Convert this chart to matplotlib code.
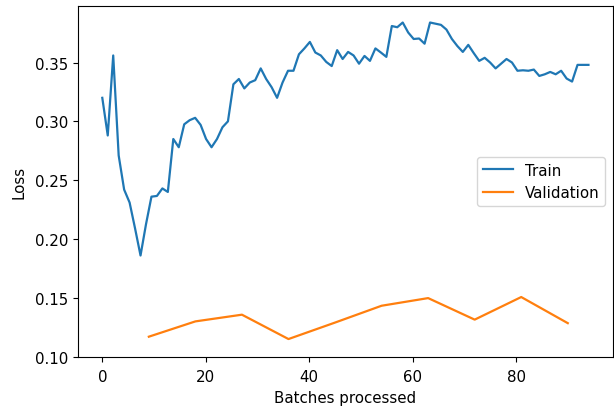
import numpy as np
import matplotlib
matplotlib.use("Agg")
import matplotlib.pyplot as plt

# 训练损失（每个批次记录一次）
train_loss = [
    0.320, 0.288, 0.356, 0.271, 0.242, 0.231, 0.209, 0.186, 0.2125, 0.236,
    0.2366, 0.243, 0.240, 0.285, 0.278, 0.2975, 0.301, 0.303, 0.297, 0.285,
    0.278, 0.285, 0.295, 0.300, 0.3315, 0.336, 0.328, 0.333, 0.335, 0.345,
    0.336, 0.329, 0.320, 0.333, 0.343, 0.343, 0.357, 0.362, 0.3675, 0.3585,
    0.356, 0.3505, 0.347, 0.3605, 0.353, 0.359, 0.356, 0.349, 0.3556, 0.3514,
    0.362, 0.3585, 0.3548, 0.381, 0.380, 0.384, 0.3755, 0.370, 0.3704, 0.366,
    0.384, 0.383, 0.382, 0.378, 0.370, 0.364, 0.359, 0.365, 0.358, 0.3514,
    0.354, 0.350, 0.345, 0.349, 0.353, 0.350, 0.343, 0.3434, 0.343, 0.344,
    0.3386, 0.340, 0.342, 0.340, 0.343, 0.3364, 0.3338, 0.348, 0.348, 0.348,
]
train_batches = np.linspace(0, 94, len(train_loss))

# 验证损失（每 9 个批次记录一次）
val_batches = [9, 18, 27, 36, 45, 54, 63, 72, 81, 90]
val_loss = [0.117, 0.130, 0.1357, 0.115, 0.129, 0.1433, 0.1498, 0.1315, 0.1507, 0.1285]

plt.rcParams['font.size'] = 10.8

fig = plt.figure(figsize=(6.14, 4.14), dpi=100)
ax = fig.add_axes([0.127, 0.136, 0.871, 0.847])

ax.plot(train_batches, train_loss, label="Train", linewidth=1.6)
ax.plot(val_batches, val_loss, label="Validation", linewidth=1.6)

ax.set_ylim(0.10, 0.398)
ax.tick_params(axis="x", pad=5)
ax.set_xlabel("Batches processed", labelpad=5)
ax.set_ylabel("Loss", labelpad=6)
ax.legend(loc="center right")

fig.savefig("out.png", dpi=100)
